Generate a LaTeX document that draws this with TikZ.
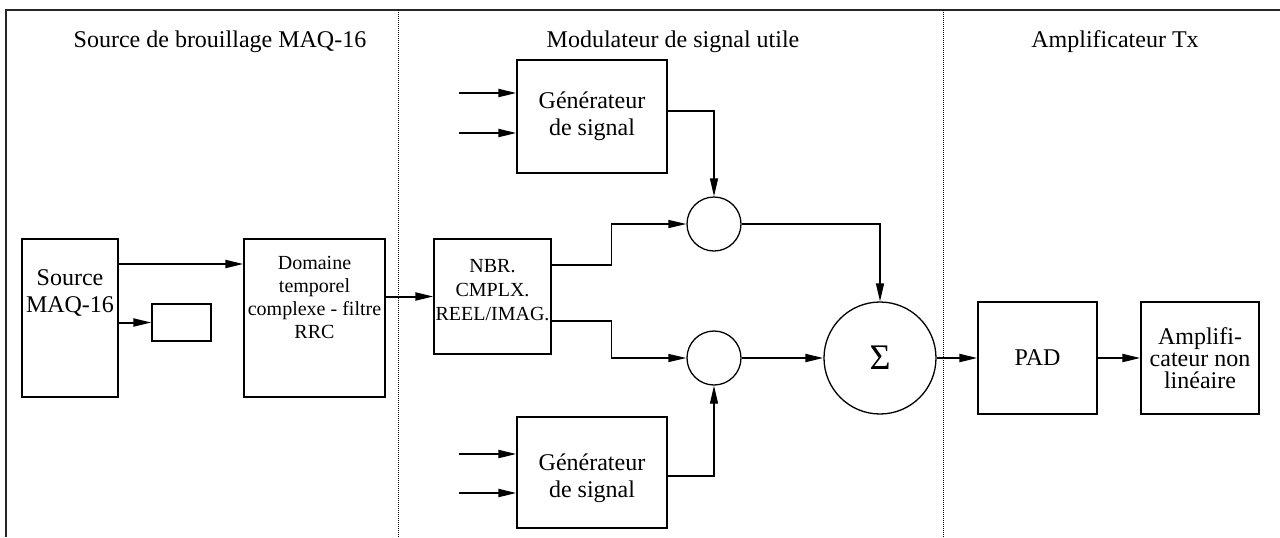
\documentclass[tikz,border=0pt]{standalone}
\usepackage{fontspec}
\setmainfont{Liberation Serif}
\usetikzlibrary{arrows.meta}
\begin{document}
\begin{tikzpicture}[x=0.5pt,y=-0.5pt,
  box/.style={draw,line width=0.65pt,inner sep=0pt},
  circ/.style={draw,circle,line width=0.65pt,inner sep=0pt},
  txt/.style={align=center,inner sep=0pt,font=\fontsize{12}{13.5}\selectfont},
  stxt/.style={align=center,inner sep=0pt,font=\fontsize{10}{11.5}\selectfont},
  ttl/.style={inner sep=0pt,font=\fontsize{12}{14}\selectfont},
  arr/.style={line width=1pt,-{Triangle[length=9pt,width=4pt]}},
  tarr/.style={line width=0.65pt,-{Triangle[length=9pt,width=4pt]}},
  divider/.style={line width=0.4pt,dash pattern=on 0.5pt off 0.5pt},
  frame/.style={line width=1pt,draw=black!85}]
\useasboundingbox (0,0) rectangle (1280,537);
% frame and dividers
\draw[frame] (6,537) -- (6,10) -- (1280,10);
\draw[divider] (398,10) -- (398,537);
\draw[divider] (943,10) -- (943,537);
% titles
\node[ttl] (t1) at (220,42) {Source de brouillage MAQ-16};
\node[ttl] (t2) at (673,42) {Modulateur de signal utile};
\node[ttl] (t3) at (1115,42) {Amplificateur Tx};
% boxes
\node[box,minimum width=48pt,minimum height=79pt] (src) at (70,318) {};
\node[txt] (srct) at (70,293) {Source\\MAQ-16};
\node[box,minimum width=29.5pt,minimum height=18.5pt] (small) at (181.5,322.5) {};
\node[box,minimum width=70.5pt,minimum height=79pt] (dom) at (314.5,318) {};
\node[stxt] (domt) at (314.5,297) {Domaine\\temporel\\complexe - filtre\\RRC};
\node[box,minimum width=58.5pt,minimum height=57.5pt] (nbr) at (492.5,296.5) {};
\node[stxt,font=\fontsize{10}{12}\selectfont] (nbrt) at (492.5,290) {NBR.\\CMPLX.\\REEL/IMAG.};
\node[box,minimum width=75pt,minimum height=56.5pt,txt,inner sep=0pt] (gen1) at (592,116.5) {Générateur\\de signal};
\node[box,minimum width=75pt,minimum height=55.5pt,inner sep=0pt] (gen2) at (592,472.5) {};
\node[txt] (gen2t) at (592,478) {Générateur\\de signal};
\node[circ,minimum size=27pt] (c1) at (714,224) {};
\node[circ,minimum size=27pt] (c2) at (714,358) {};
\node[circ,minimum size=56pt,font=\fontsize{18}{20}\selectfont] (sig) at (880,358) {Σ};
\node[box,txt,minimum width=59.5pt,minimum height=56pt] (pad) at (1037.5,358) {PAD};
\node[box,minimum width=59pt,minimum height=56pt] (amp) at (1200,358) {};
\node[txt,font=\fontsize{12}{11}\selectfont] (ampt) at (1200,358) {Amplifi-\\cateur non\\linéaire};
% helper coordinates
\coordinate (y264) at (0,264);
\coordinate (y265) at (0,265);
\coordinate (y321) at (0,321);
\coordinate (y111) at (0,111);
\coordinate (y476) at (0,476);
\coordinate (i1) at (459,93);
\coordinate (i2) at (459,133);
\coordinate (i3) at (459,454);
\coordinate (i4) at (459,493);
% connectors
\draw[arr] (src.east |- y264) -- (dom.west |- y264);
\draw[arr] (src.east |- small.west) -- (small.west);
\draw[arr] (dom.east |- nbr.west) -- (nbr.west);
\draw[tarr] (nbr.east |- y265) -- ++(60,0) |- (c1.west);
\draw[tarr] (nbr.east |- y321) -- ++(60,0) |- (c2.west);
\draw[tarr] (gen1.east |- y111) -| (c1.north);
\draw[tarr] (gen2.east |- y476) -| (c2.south);
\draw[tarr] (c1.east) -| (sig.north);
\draw[arr] (c2.east) -- (sig.west);
\draw[arr] (sig.east) -- (pad.west);
\draw[arr] (pad.east) -- (amp.west);
\draw[arr] (i1) -- (gen1.west |- i1);
\draw[arr] (i2) -- (gen1.west |- i2);
\draw[arr] (i3) -- (gen2.west |- i3);
\draw[arr] (i4) -- (gen2.west |- i4);
\end{tikzpicture}
\end{document}
